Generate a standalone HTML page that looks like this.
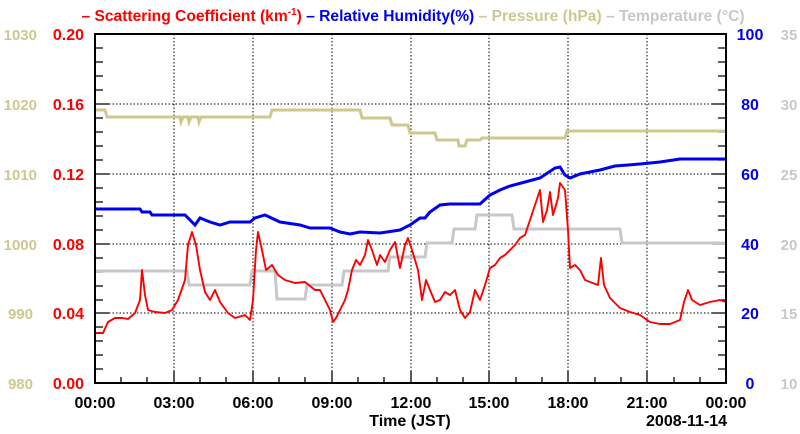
<!DOCTYPE html>
<html><head><style>body{margin:0;background:#fff}svg{display:block}text{font-family:"Liberation Sans",Arial,sans-serif;font-weight:bold}</style></head><body>
<svg width="800" height="434" viewBox="0 0 800 434">
<g stroke="#000" stroke-dasharray="1.5,2" stroke-width="1">
<line x1="174" y1="34" x2="174" y2="383"/><line x1="253" y1="34" x2="253" y2="383"/><line x1="332" y1="34" x2="332" y2="383"/><line x1="411" y1="34" x2="411" y2="383"/><line x1="489" y1="34" x2="489" y2="383"/><line x1="568" y1="34" x2="568" y2="383"/><line x1="647" y1="34" x2="647" y2="383"/>
<line x1="95" y1="104" x2="726" y2="104"/><line x1="95" y1="174" x2="726" y2="174"/><line x1="95" y1="244" x2="726" y2="244"/><line x1="95" y1="313" x2="726" y2="313"/>
</g>
<g stroke="#000" stroke-width="1.3">
<path d="M95,48h8M95,62h8M95,76h8M95,90h8M95,104h14M95,118h8M95,132h8M95,146h8M95,160h8M95,174h14M95,188h8M95,202h8M95,216h8M95,230h8M95,244h14M95,258h8M95,272h8M95,286h8M95,300h8M95,313h14M95,327h8M95,341h8M95,355h8M95,369h8"/>
<path d="M726,48h-8M726,62h-8M726,76h-8M726,90h-8M726,104h-14M726,118h-8M726,132h-8M726,146h-8M726,160h-8M726,174h-14M726,188h-8M726,202h-8M726,216h-8M726,230h-8M726,244h-14M726,258h-8M726,272h-8M726,286h-8M726,300h-8M726,313h-14M726,327h-8M726,341h-8M726,355h-8M726,369h-8"/>
<path d="M121,383v-6M147,383v-6M174,383v-12M200,383v-6M226,383v-6M253,383v-12M279,383v-6M305,383v-6M332,383v-12M358,383v-6M384,383v-6M411,383v-12M437,383v-6M463,383v-6M489,383v-12M516,383v-6M542,383v-6M568,383v-12M595,383v-6M621,383v-6M647,383v-12M674,383v-6M700,383v-6"/>
</g>
<polyline fill="none" stroke="#cfc88e" stroke-width="3" points="95,110 105,110 107,117 180,117 181,122 183,117 188,117 189,122 191,117 198,117 199,122 201,117 270,117 272,110 360,110 362,118 390,118 392,125 408,125 410,133 435,133 437,140 458,140 459,146 465,146 467,140 480,140 482,138 565,138 567,131 726,131"/>
<polyline fill="none" stroke="#c8c8c8" stroke-width="3" points="95,271 187,271 189,285 250,285 252,271 275,271 277,299 305,299 307,285 342,285 344,271 388,271 390,257 425,257 427,243 452,243 454,229 475,229 477,215 512,215 514,229 620,229 622,243 726,243"/>
<polyline fill="none" stroke="#0000ee" stroke-width="3" points="95,209 140,209 142,212 150,212 152,215 185,215 190,220 195,225 200,218 210,222 220,225 230,222 250,222 255,218 265,215 280,222 300,225 310,228 330,228 340,232 350,234 360,232 380,233 400,230 410,225 420,218 425,218 430,212 440,205 450,204 480,204 490,195 500,190 510,186 525,182 540,178 555,168 560,167 565,175 570,178 580,174 590,172 600,170 615,166 640,164 660,162 680,159 726,159"/>
<polyline fill="none" stroke="#ff0000" stroke-width="1.9" stroke-linejoin="round" points="95,333 103,333 108,322 115,318 122,318 128,319 135,313 140,300 142,270 145,295 148,310 155,312 165,313 172,310 178,300 185,280 188,245 192,232 196,245 200,270 205,292 210,300 215,290 220,302 228,313 235,318 245,315 250,320 253,300 256,250 258,232 262,250 266,270 272,265 278,275 285,280 295,283 305,282 315,290 320,290 325,300 330,310 333,322 336,318 340,310 345,300 348,290 352,270 356,260 360,265 365,255 368,240 372,250 377,265 380,255 385,262 390,250 395,242 400,268 405,245 408,238 412,250 418,270 422,300 426,280 430,290 435,302 440,300 445,292 450,295 455,290 460,310 465,318 470,312 475,290 480,300 485,285 490,268 495,265 500,258 505,255 510,250 515,245 520,238 525,235 530,220 535,205 540,190 543,222 547,210 550,192 553,215 556,205 558,198 560,183 565,190 568,230 570,268 575,265 580,270 585,280 590,282 598,285 601,258 604,285 610,298 620,308 630,312 640,315 650,322 660,324 670,324 680,320 684,302 688,290 692,300 700,305 710,302 720,300 726,302"/>
<rect x="95" y="34" width="631" height="349" fill="none" stroke="#000" stroke-width="2"/>
<text y="21" font-size="15.6" text-anchor="middle" x="413"><tspan fill="#ff0000">– Scattering Coefficient (km<tspan font-size="10" dy="-6">-1</tspan><tspan dy="6">)</tspan></tspan><tspan fill="#0000ee"> – Relative Humidity(%)</tspan><tspan fill="#cfc88e"> – Pressure (hPa)</tspan><tspan fill="#c8c8c8"> – Temperature (°C)</tspan></text>
<g font-size="16" text-anchor="end" fill="#ff0000"><text x="84" y="40">0.20</text><text x="84" y="110">0.16</text><text x="84" y="180">0.12</text><text x="84" y="250">0.08</text><text x="84" y="319">0.04</text><text x="84" y="389">0.00</text></g>
<g font-size="15" text-anchor="end" fill="#cfc88e"><text x="37" y="40" font-weight="normal">1030</text><text x="37" y="110" font-weight="normal">1020</text><text x="37" y="180" font-weight="normal">1010</text><text x="37" y="250" font-weight="normal">1000</text><text x="33" y="319" font-weight="normal">990</text><text x="33" y="389" font-weight="normal">980</text></g>
<g font-size="16" text-anchor="middle" fill="#0000ee"><text x="750" y="40">100</text><text x="750" y="110">80</text><text x="750" y="180">60</text><text x="750" y="250">40</text><text x="750" y="319">20</text><text x="750" y="389">0</text></g>
<g font-size="15" text-anchor="middle" fill="#c8c8c8"><text x="789" y="40" font-weight="normal">35</text><text x="789" y="110" font-weight="normal">30</text><text x="789" y="180" font-weight="normal">25</text><text x="789" y="250" font-weight="normal">20</text><text x="789" y="319" font-weight="normal">15</text><text x="789" y="389" font-weight="normal">10</text></g>
<g font-size="16" text-anchor="middle" fill="#000"><text x="95" y="408">00:00</text><text x="174" y="408">03:00</text><text x="253" y="408">06:00</text><text x="332" y="408">09:00</text><text x="411" y="408">12:00</text><text x="489" y="408">15:00</text><text x="568" y="408">18:00</text><text x="647" y="408">21:00</text><text x="726" y="408">00:00</text>
<text x="410" y="426">Time (JST)</text><text x="727" y="426" text-anchor="end">2008-11-14</text></g>
</svg></body></html>
